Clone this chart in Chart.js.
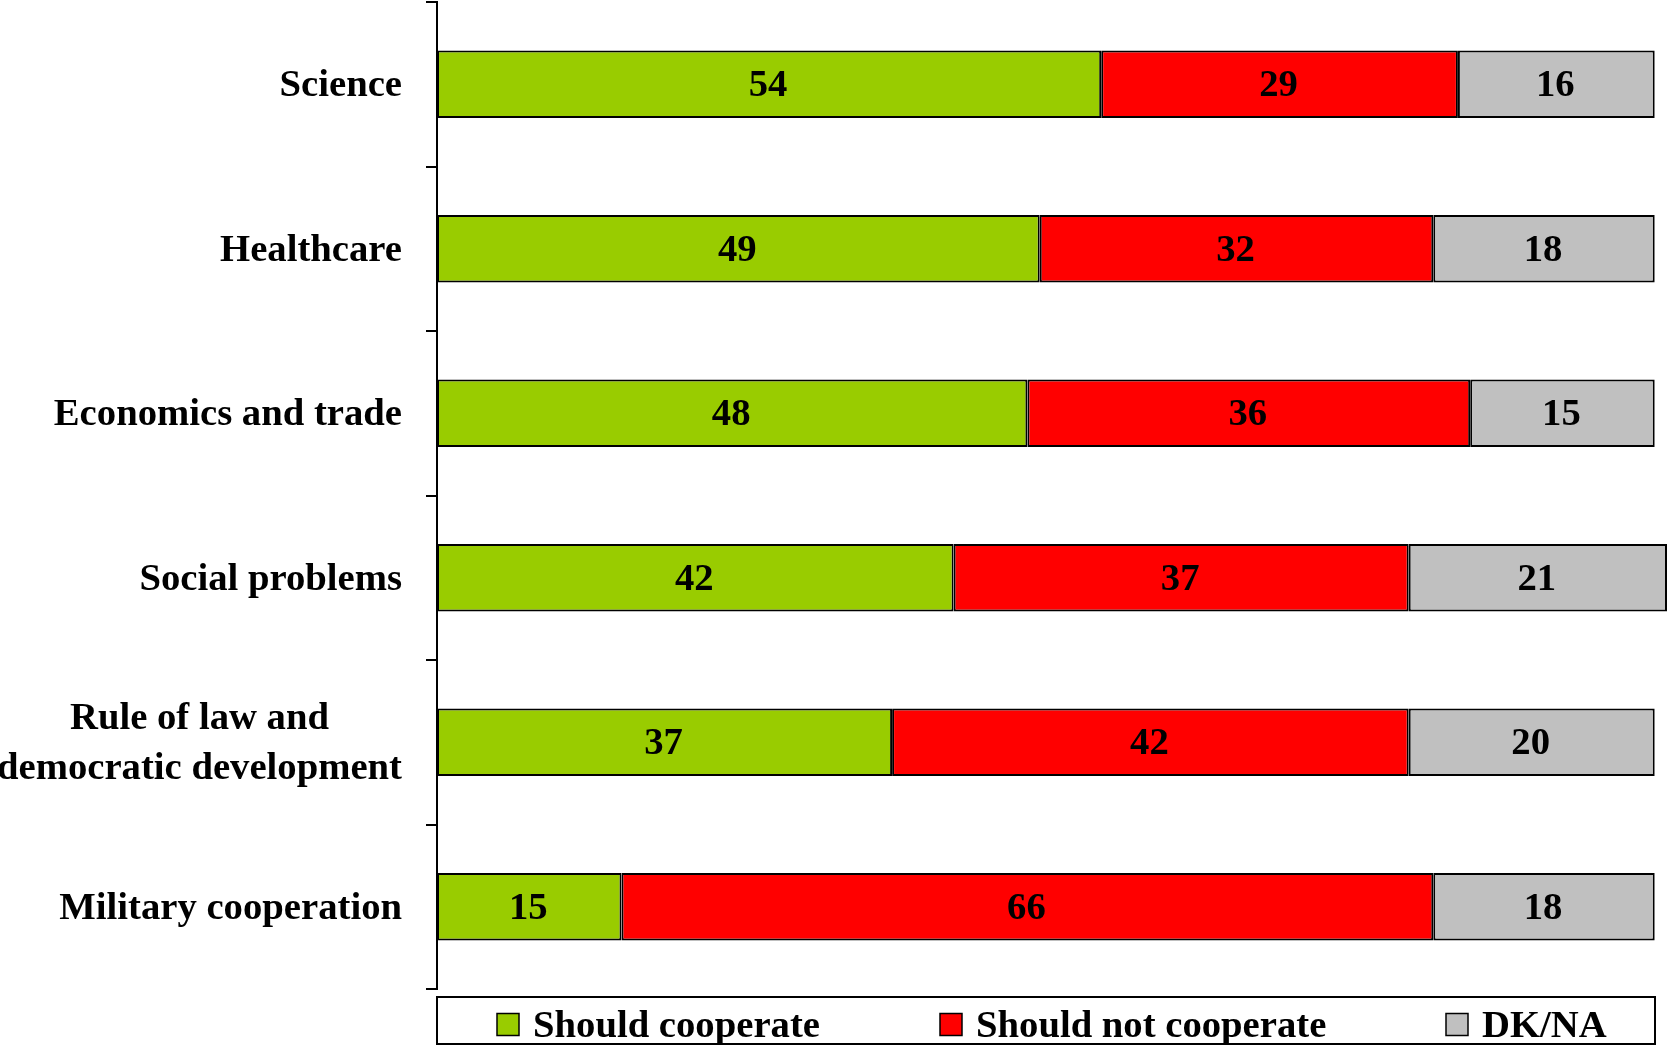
<!DOCTYPE html>
<html>
<head>
<meta charset="utf-8">
<script src="https://cdn.jsdelivr.net/npm/chart.js@4.4.0/dist/chart.umd.min.js"></script>
<style>
html, body { margin: 0; padding: 0; background: #fff; }
#wrap { width: 1667px; height: 1046px; }
</style>
</head>
<body>
<div id="wrap"><canvas id="barChart" width="1667" height="1046"></canvas></div>
<script>
var categories = ["Science", "Healthcare", "Economics and trade", "Social problems", ["Rule of law and", "democratic development"], "Military cooperation"];
var shouldCooperate = [54, 49, 48, 42, 37, 15];
var shouldNotCooperate = [29, 32, 36, 37, 42, 66];
var dkna = [16, 18, 15, 21, 20, 18];
var seriesNames = ["Should cooperate", "Should not cooperate", "DK/NA"];
var seriesColors = ["#99CC00", "#FF0000", "#C0C0C0"];

var serifBold = 'bold 38.7px "Liberation Serif", "Times New Roman", serif';

// value labels, category labels and the boxed legend
var drawExtras = {
    id: 'drawExtras',
    afterDatasetsDraw: function(chart) {
        var ctx = chart.ctx;
        var yScale = chart.scales.y;
        ctx.save();
        ctx.font = serifBold;
        ctx.fillStyle = '#000';
        ctx.textBaseline = 'middle';
        ctx.textAlign = 'center';

        chart.data.datasets.forEach(function(ds, i) {
            chart.getDatasetMeta(i).data.forEach(function(bar, j) {
                var mid = (bar.x + bar.base) / 2;
                ctx.fillText(ds.data[j], mid - 1, bar.y + 2);
            });
        });

        chart.data.labels.forEach(function(label, j) {
            var lines = Array.isArray(label) ? label : [label];
            var y = yScale.getPixelForValue(j);
            var widest = Math.max.apply(null, lines.map(function(l) { return ctx.measureText(l).width; }));
            var cx = yScale.right - 35 - widest / 2;
            var lh = 50;
            lines.forEach(function(l, k) {
                ctx.fillText(l, cx, y + (k - (lines.length - 1) / 2) * lh + 2);
            });
        });

        // legend box
        var area = chart.chartArea;
        var boxTop = 997, boxBottom = 1044;
        ctx.lineWidth = 2;
        ctx.strokeStyle = '#000';
        ctx.strokeRect(area.left, boxTop, 1655 - area.left, boxBottom - boxTop);

        var itemX = [497, 940, 1446];
        var midY = (boxTop + boxBottom) / 2 + 4;
        ctx.textAlign = 'left';
        chart.data.datasets.forEach(function(ds, i) {
            ctx.fillStyle = ds.backgroundColor;
            ctx.fillRect(itemX[i], midY - 11, 22, 22);
            ctx.lineWidth = 1.5;
            ctx.strokeStyle = '#000';
            ctx.strokeRect(itemX[i], midY - 11, 22, 22);
            ctx.fillStyle = '#000';
            ctx.fillText(ds.label, itemX[i] + 36, midY + 3);
        });
        ctx.restore();
    }
};

var ctxB = document.getElementById('barChart').getContext('2d');
var myBarChart = new Chart(ctxB, {
    type: 'bar',
    data: {
        labels: categories,
        datasets: [
            { label: seriesNames[0], data: shouldCooperate, backgroundColor: seriesColors[0] },
            { label: seriesNames[1], data: shouldNotCooperate, backgroundColor: seriesColors[1] },
            { label: seriesNames[2], data: dkna, backgroundColor: seriesColors[2] }
        ].map(function(ds) {
            ds.borderColor = '#000';
            ds.borderWidth = 2;
            ds.borderSkipped = false;
            ds.barPercentage = 0.41;
            ds.categoryPercentage = 1;
            return ds;
        })
    },
    options: {
        indexAxis: 'y',
        responsive: false,
        animation: false,
        layout: { padding: { top: 2, bottom: 57, left: 0, right: 0 } },
        plugins: {
            legend: { display: false },
            tooltip: { enabled: false }
        },
        scales: {
            x: {
                stacked: true,
                min: 0,
                max: 100,
                display: false
            },
            y: {
                stacked: true,
                afterFit: function(scale) { scale.width = 437; },
                ticks: { display: false },
                grid: {
                    display: true,
                    drawOnChartArea: false,
                    offset: true,
                    color: '#000',
                    tickColor: '#000',
                    lineWidth: 2,
                    tickLength: 11
                },
                border: { display: true, color: '#000', width: 2 }
            }
        }
    },
    plugins: [drawExtras]
});
</script>
</body>
</html>
